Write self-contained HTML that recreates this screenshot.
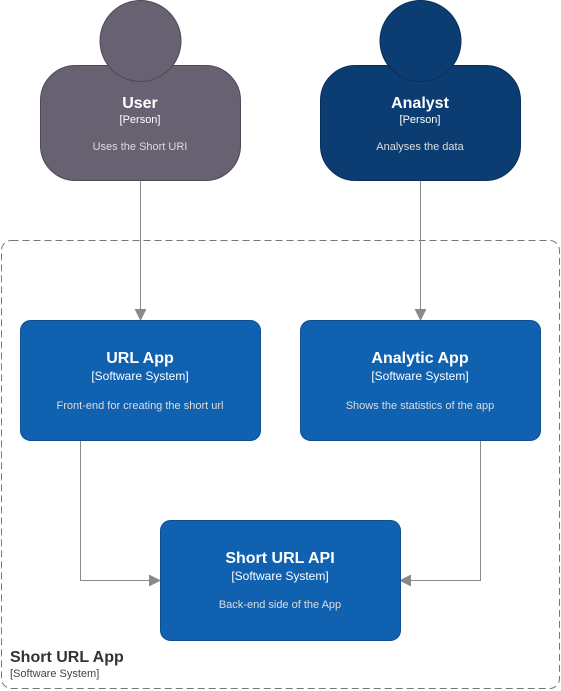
<!DOCTYPE html>
<html><head><meta charset="utf-8"><style>
html,body{margin:0;padding:0;background:#fff;}
svg{display:block;font-family:"Liberation Sans",Arial,sans-serif;}
</style></head><body>
<svg width="561" height="691" viewBox="0 0 561 691" xmlns="http://www.w3.org/2000/svg">
<defs>
<marker id="a" markerWidth="12" markerHeight="12" refX="11" refY="6" orient="auto" markerUnits="userSpaceOnUse">
<path d="M0,0 L12,6 L0,12 Z" fill="#8a8a8a"/></marker>
</defs>
<rect x="1.5" y="240.5" width="558" height="448" rx="10" fill="none" stroke="#777" stroke-dasharray="7,4" stroke-width="1"/>
<text x="10" y="662" font-size="16" font-weight="bold" fill="#333">Short URL App</text>
<text x="10" y="677" font-size="11" fill="#444">[Software System]</text>

<!-- User -->
<rect x="40.5" y="65.5" width="200" height="115" rx="35" fill="#686172" stroke="#4e4858"/>
<circle cx="140.5" cy="41" r="40.5" fill="#686172" stroke="#4e4858"/>
<text x="140" y="108" font-size="16" font-weight="bold" fill="#fff" text-anchor="middle">User</text>
<text x="140" y="123" font-size="11" fill="#fff" text-anchor="middle">[Person]</text>
<text x="140" y="150" font-size="11" fill="#ddd" text-anchor="middle">Uses the Short URI</text>

<!-- Analyst -->
<rect x="320.5" y="65.5" width="200" height="115" rx="35" fill="#0b3d73" stroke="#082f5a"/>
<circle cx="420.5" cy="41" r="40.5" fill="#0b3d73" stroke="#082f5a"/>
<text x="420" y="108" font-size="16" font-weight="bold" fill="#fff" text-anchor="middle">Analyst</text>
<text x="420" y="123" font-size="11" fill="#fff" text-anchor="middle">[Person]</text>
<text x="420" y="150" font-size="11" fill="#ddd" text-anchor="middle">Analyses the data</text>

<!-- arrows -->
<g stroke="#8a8a8a" stroke-width="1" fill="none">
<path d="M140.5,181 V320" marker-end="url(#a)"/>
<path d="M420.5,181 V320" marker-end="url(#a)"/>
<path d="M80.5,440 V580.5 H160" marker-end="url(#a)"/>
<path d="M480.5,440 V580.5 H400" marker-end="url(#a)"/>
</g>

<!-- URL App -->
<rect x="20.5" y="320.5" width="240" height="120" rx="10" fill="#1061b0" stroke="#0d4f90"/>
<text x="140" y="363" font-size="16" font-weight="bold" fill="#fff" text-anchor="middle">URL App</text>
<text x="140" y="380" font-size="12" fill="#fff" text-anchor="middle">[Software System]</text>
<text x="140" y="409" font-size="11" fill="#ddd" text-anchor="middle">Front-end for creating the short url</text>

<!-- Analytic App -->
<rect x="300.5" y="320.5" width="240" height="120" rx="10" fill="#1061b0" stroke="#0d4f90"/>
<text x="420" y="363" font-size="16" font-weight="bold" fill="#fff" text-anchor="middle">Analytic App</text>
<text x="420" y="380" font-size="12" fill="#fff" text-anchor="middle">[Software System]</text>
<text x="420" y="409" font-size="11" fill="#ddd" text-anchor="middle">Shows the statistics of the app</text>

<!-- Short URL API -->
<rect x="160.5" y="520.5" width="240" height="120" rx="10" fill="#1061b0" stroke="#0d4f90"/>
<text x="280" y="563" font-size="16" font-weight="bold" fill="#fff" text-anchor="middle">Short URL API</text>
<text x="280" y="580" font-size="12" fill="#fff" text-anchor="middle">[Software System]</text>
<text x="280" y="608" font-size="11" fill="#ddd" text-anchor="middle">Back-end side of the App</text>
</svg>
</body></html>
